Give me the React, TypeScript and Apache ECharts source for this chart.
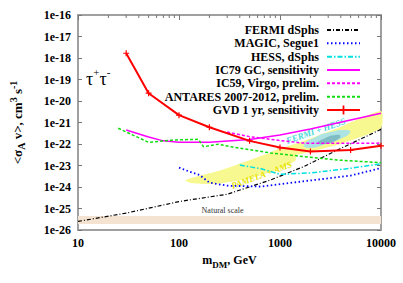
import React, { useEffect, useRef } from 'react';
import * as echarts from 'echarts';

// ---------- data (mass in GeV, cross-section in cm^3 s^-1) ----------
const FERMI_M = [10, 31, 100, 300, 800, 1700, 3700, 10000];
const FERMI_S = [2.5e-26, 6.3e-26, 2.1e-25, 4.6e-25, 2.1e-24, 8.7e-24, 5.2e-23, 4.8e-22];

const MAGIC_M = [100, 128, 160, 200, 300, 650, 2150, 5000, 10000];
const MAGIC_S = [8e-24, 5.1e-24, 3.6e-24, 1.6e-24, 1.15e-24, 1.05e-24, 2.1e-24, 3.4e-24, 7.6e-24];

const HESS_M = [400, 650, 1000, 2000, 5000, 10000];
const HESS_S = [1.05e-23, 7e-24, 3.9e-24, 4.5e-24, 7.4e-24, 1.2e-23];

const IC79_M = [30, 50, 70, 100, 200, 500, 1000, 2000, 5000, 10000];
const IC79_S = [4.5e-22, 2.1e-22, 1.4e-22, 1.2e-22, 1.2e-22, 1.6e-22, 2.6e-22, 5e-22, 1.3e-21, 2.7e-21];

const IC59_M = [300, 500, 1000, 1700, 4000, 10000];
const IC59_S = [3.6e-22, 2.2e-22, 1.45e-22, 1.1e-22, 1.07e-22, 1.1e-22];

const ANT_M = [25, 35, 50, 92, 156, 175, 245, 330, 810, 1730, 3700, 10000];
const ANT_S = [5.4e-22, 2.6e-22, 1.2e-22, 1.55e-22, 1.65e-22, 7.4e-23, 9.8e-23, 7.4e-23, 3.8e-23, 2.6e-23, 1.8e-23, 1.35e-23];

const GVD_M = [30, 50, 100, 200, 500, 1000, 2000, 5000, 10000];
const GVD_S = [1.66e-18, 2.3e-20, 2.2e-21, 6e-22, 1.4e-22, 6.8e-23, 4.5e-23, 5.2e-23, 8.2e-23];

// regions
const PAM_M = [115, 264, 652, 1282, 1435, 914, 520, 236, 134];
const PAM_S = [2.1e-24, 6.2e-24, 2.8e-23, 6.5e-23, 1.8e-23, 6.2e-24, 2.6e-24, 1.4e-24, 1.5e-24];

const FH_M = [817, 1607, 3963, 10000, 10000, 3963, 1607, 914];
const FH_S = [4.2e-23, 1.24e-22, 6.2e-22, 3.4e-21, 5.5e-22, 1e-22, 3.4e-23, 2.2e-23];

const BLOB_OUT_M = [1718, 2254, 3162, 4437, 4970, 3963, 2825, 2014];
const BLOB_OUT_S = [9e-23, 2.1e-22, 3.6e-22, 4.5e-22, 3.6e-22, 1.7e-22, 1e-22, 6.5e-23];
const BLOB_IN_M = [2360, 2825, 3540, 3963, 3620, 2825];
const BLOB_IN_S = [1.1e-22, 1.9e-22, 2.6e-22, 2.35e-22, 1.5e-22, 1e-22];

const NATURAL_S = [1.9e-26, 4.5e-26];

// text anchors along bands: [m1, s1, m2, s2]
const PAM_TEXT = [316, 1e-24, 1371, 1.3e-23];
const FH_TEXT = [1094, 1.24e-22, 4645, 1.3e-21];
const NATURAL_TEXT_M = 270;

const X_TICK_LABELS = ['10', '100', '1000', '10000'];
const Y_TICK_LABELS = ['1e-26', '1e-25', '1e-24', '1e-23', '1e-22', '1e-21', '1e-20', '1e-19', '1e-18', '1e-17', '1e-16'];
const MINOR_X = [20, 30, 40, 50, 60, 70, 80, 90, 200, 300, 400, 500, 600, 700, 800, 900, 2000, 3000, 4000, 5000, 6000, 7000, 8000, 9000];

const NAMES = [
  'FERMI dSphs',
  'MAGIC, Segue1',
  'HESS, dSphs',
  'IC79 GC, sensitivity',
  'IC59, Virgo, prelim.',
  'ANTARES 2007-2012, prelim.',
  'GVD 1 yr, sensitivity',
];

const SERIF = '"Liberation Serif", "DejaVu Serif", serif';
const lg = Math.log10;
const pts = (m: number[], s: number[]) => m.map((v, i) => [lg(v), lg(s[i])]);

function lineSeries(name: string, m: number[], s: number[], color: string, type: any, width: number, extra: any = {}) {
  return {
    type: 'line',
    name,
    data: pts(m, s),
    symbol: 'none',
    lineStyle: { color, type, width },
    itemStyle: { color },
    z: 3,
    silent: true,
    ...extra,
  };
}

function buildOption() {
  const axisLine = { show: true, lineStyle: { color: '#a0a0a0', width: 2 } };
  const tickStyle = { color: '#777', width: 1 };
  return {
    animation: false,
    grid: { left: 75, right: 22, top: 15, bottom: 53 },
    legend: {
      orient: 'vertical',
      align: 'right',
      right: 37,
      top: 19,
      itemWidth: 33,
      itemHeight: 11,
      itemGap: 1.33,
      itemStyle: { opacity: 0 },
      data: NAMES.map((n, i) => (i === 6 ? { name: n, itemStyle: { opacity: 1 } } : { name: n })),
      textStyle: {
        fontFamily: SERIF, fontWeight: 'bold', fontSize: 12, color: '#000', lineHeight: 11,
        padding: [0, 3, 0, 0],
      },
    },
    graphic: [
      {
        type: 'text',
        left: 86,
        top: 66,
        style: {
          text: '{t|τ}{s|+}{t|τ}{s|-}',
          rich: {
            t: { fontFamily: SERIF, fontSize: 18, lineHeight: 22, verticalAlign: 'bottom', fill: '#000' },
            s: { fontFamily: SERIF, fontSize: 11, lineHeight: 13, verticalAlign: 'top', fill: '#000' },
          },
        },
      },
    ],
    xAxis: [
      {
        type: 'value', min: 1, max: 4, interval: 1, position: 'bottom',
        axisLine, axisTick: { show: false }, splitLine: { show: false },
        axisLabel: {
          formatter: (_v: number, i: number) => X_TICK_LABELS[i],
          fontFamily: SERIF, fontWeight: 'bold', fontSize: 12, color: '#000', margin: 7,
        },
        name: '{b|m}{sub|DM}{b|, GeV}',
        nameLocation: 'middle',
        nameGap: 24,
        nameTextStyle: {
          rich: {
            b: { fontFamily: SERIF, fontWeight: 'bold', fontSize: 12, lineHeight: 15, verticalAlign: 'top', color: '#000' },
            sub: { fontFamily: SERIF, fontWeight: 'bold', fontSize: 9, lineHeight: 10, verticalAlign: 'bottom', color: '#000', padding: [6, 0, 0, 0] },
          },
        },
      },
      {
        type: 'value', min: 1, max: 4, interval: 1, position: 'top',
        axisLine, axisTick: { show: true, inside: true, length: 5, lineStyle: tickStyle },
        axisLabel: { show: false }, splitLine: { show: false },
      },
    ],
    yAxis: [
      {
        type: 'value', min: -26, max: -16, interval: 1, position: 'left',
        axisLine, axisTick: { show: true, inside: true, length: 4, lineStyle: tickStyle }, splitLine: { show: false },
        axisLabel: {
          formatter: (_v: number, i: number) => Y_TICK_LABELS[i],
          fontFamily: SERIF, fontWeight: 'bold', fontSize: 12, color: '#000', margin: 7,
        },
        name: '{b|<σ}{sub|A}{b| v>, cm}{sup|3}{b| s}{sup|-1}',
        nameLocation: 'middle',
        nameRotate: 90,
        nameGap: 52,
        nameTextStyle: {
          rich: {
            b: { fontFamily: SERIF, fontWeight: 'bold', fontSize: 13, lineHeight: 18, verticalAlign: 'middle', color: '#000' },
            sub: { fontFamily: SERIF, fontWeight: 'bold', fontSize: 10, lineHeight: 10, verticalAlign: 'bottom', color: '#000' },
            sup: { fontFamily: SERIF, fontWeight: 'bold', fontSize: 10, lineHeight: 10, verticalAlign: 'top', color: '#000' },
          },
        },
      },
      {
        type: 'value', min: -26, max: -16, interval: 1, position: 'right',
        axisLine, axisTick: { show: true, inside: true, length: 4, lineStyle: tickStyle },
        axisLabel: { show: false }, splitLine: { show: false },
      },
    ],
    series: [
      {
        type: 'custom',
        name: 'regions',
        coordinateSystem: 'cartesian2d',
        xAxisIndex: 0,
        yAxisIndex: 0,
        data: [[1, -26]],
        z: 1,
        silent: true,
        clip: false,
        renderItem: (params: any, api: any) => {
          const cs = params.coordSys;
          const poly = (m: number[], s: number[]) => m.map((v, i) => api.coord([lg(v), lg(s[i])]));
          const children: any[] = [];
          const lo = api.coord([1, lg(NATURAL_S[0])]);
          const hi = api.coord([1, lg(NATURAL_S[1])]);
          children.push({
            type: 'rect',
            shape: { x: cs.x, y: hi[1], width: cs.width, height: lo[1] - hi[1] },
            style: { fill: '#f4e3d1' },
          });
          const nt = api.coord([lg(NATURAL_TEXT_M), lg(NATURAL_S[1])]);
          children.push({
            type: 'text',
            x: nt[0], y: nt[1] - 1,
            style: { text: 'Natural scale', fontFamily: SERIF, fontSize: 8, fill: '#333', align: 'center', verticalAlign: 'bottom' },
          });
          children.push({ type: 'polygon', shape: { points: poly(PAM_M, PAM_S), smooth: 0.2 }, style: { fill: '#f8f890' } });
          children.push({ type: 'polygon', shape: { points: poly(FH_M, FH_S), smooth: 0.2 }, style: { fill: '#f8f890' } });
          children.push({ type: 'polygon', shape: { points: poly(BLOB_OUT_M, BLOB_OUT_S), smooth: 0.6 }, style: { fill: '#aee3e3' } });
          children.push({ type: 'polygon', shape: { points: poly(BLOB_IN_M, BLOB_IN_S), smooth: 0.6 }, style: { fill: '#80bcc4' } });
          const band = (t: number[], text: string, fill: string) => {
            const p1 = api.coord([lg(t[0]), lg(t[1])]);
            const p2 = api.coord([lg(t[2]), lg(t[3])]);
            const rot = Math.atan2(p1[1] - p2[1], p2[0] - p1[0]);
            children.push({
              type: 'text',
              x: (p1[0] + p2[0]) / 2,
              y: (p1[1] + p2[1]) / 2,
              rotation: rot,
              style: {
                text, fontFamily: SERIF, fontSize: 9, fontWeight: 'bold', fontStyle: 'italic',
                fill, align: 'center', verticalAlign: 'middle',
              },
            });
          };
          band(PAM_TEXT, 'PAMELA + AMS', '#e4e400');
          band(FH_TEXT, 'FERMI + HESS', '#48d8d8');
          // log minor ticks on top border
          MINOR_X.forEach((v) => {
            const x = api.coord([lg(v), -16])[0];
            children.push({ type: 'line', shape: { x1: x, y1: cs.y, x2: x, y2: cs.y + 3 }, style: { stroke: '#777', lineWidth: 1 } });
          });
          return { type: 'group', children };
        },
      },
      lineSeries(NAMES[0], FERMI_M, FERMI_S, '#000000', [4, 2, 1, 2], 1.2),
      lineSeries(NAMES[1], MAGIC_M, MAGIC_S, '#0000ff', [1.5, 2.5], 1.8),
      lineSeries(NAMES[2], HESS_M, HESS_S, '#00e0e0', [5, 2, 1.5, 2], 1.5),
      lineSeries(NAMES[3], IC79_M, IC79_S, '#ff00ff', 'solid', 1.5),
      lineSeries(NAMES[4], IC59_M, IC59_S, '#ff00ff', [3, 2], 1.5),
      lineSeries(NAMES[5], ANT_M, ANT_S, '#11dd11', [3, 2], 1.5),
      lineSeries(NAMES[6], GVD_M, GVD_S, '#ff0000', 'solid', 2, {
        symbol: 'path://M2,0H3V2H5V3H3V5H2V3H0V2H2Z',
        symbolSize: 6,
        showSymbol: true,
        itemStyle: { color: '#ff0000' },
      }),
    ],
  };
}

export default function App() {
  const ref = useRef<HTMLDivElement>(null);
  useEffect(() => {
    const chart = echarts.init(ref.current!, null, { renderer: 'svg' });
    chart.setOption(buildOption() as any);
    return () => chart.dispose();
  }, []);
  return (
    <div
      ref={ref}
      style={{ position: 'absolute', left: 0, top: 0, width: 403, height: 283, background: '#fff' }}
    />
  );
}
